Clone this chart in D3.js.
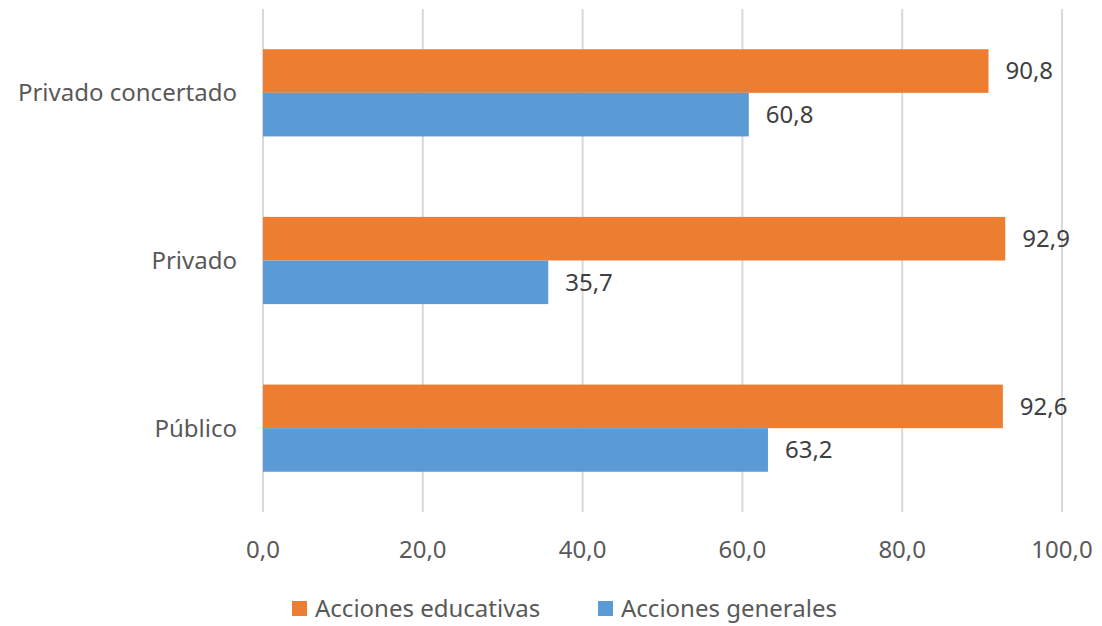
<!DOCTYPE html>
<html>
<head>
<meta charset="utf-8">
<script src="https://cdn.jsdelivr.net/npm/d3@7"></script>
<style>
  body { margin: 0; background: #fff; }
  svg { font-family: "Noto Sans", "Open Sans", sans-serif; }
</style>
</head>
<body>
<svg width="1102" height="626"></svg>
<script>
var categories = ["Privado concertado", "Privado", "Público"];
var seriesNames = ["Acciones educativas", "Acciones generales"];
var educativas = [90.8, 92.9, 92.6];
var generales = [60.8, 35.7, 63.2];
var xTicks = [0, 20, 40, 60, 80, 100];
var colors = ["#ED7D31", "#5B9BD5"];

var svg = d3.select("svg"),
    margin = {top: 9, right: 40, bottom: 114, left: 263},
    width = 1102 - margin.left - margin.right,
    height = 626 - margin.top - margin.bottom;

var fs = 24;

var g = svg.append("g")
    .attr("transform", "translate(" + margin.left + "," + margin.top + ")");

var x = d3.scaleLinear().domain([0, 100]).range([0, 799]);
var y0 = d3.scaleBand().domain(categories).range([0, height]).paddingInner(0.48).paddingOuter(0.24);
var y1 = d3.scaleBand().domain(seriesNames).range([0, y0.bandwidth()]);

var fmt = function(v) { return d3.format(".1f")(v).replace(".", ","); };

// gridlines
g.selectAll(".grid").data(xTicks).enter().append("line")
  .attr("x1", function(d) { return x(d); })
  .attr("x2", function(d) { return x(d); })
  .attr("y1", 0).attr("y2", height)
  .attr("stroke", "#d9d9d9").attr("stroke-width", 2);

var rows = categories.map(function(c, i) {
  return {cat: c, vals: [educativas[i], generales[i]]};
});

var grp = g.selectAll(".cat").data(rows).enter().append("g")
  .attr("transform", function(d) { return "translate(0," + y0(d.cat) + ")"; });

grp.selectAll("rect").data(function(d) {
    return d.vals.map(function(v, j) { return {s: seriesNames[j], v: v, j: j}; });
  }).enter().append("rect")
  .attr("x", x(0))
  .attr("y", function(d) { return y1(d.s); })
  .attr("width", function(d) { return x(d.v) - x(0); })
  .attr("height", y1.bandwidth())
  .attr("fill", function(d) { return colors[d.j]; });

grp.selectAll("text.val").data(function(d) {
    return d.vals.map(function(v, j) { return {s: seriesNames[j], v: v}; });
  }).enter().append("text")
  .attr("x", function(d) { return x(d.v) + 17; })
  .attr("y", function(d) { return y1(d.s) + y1.bandwidth() / 2; })
  .attr("dy", "0.35em")
  .attr("font-size", fs)
  .attr("fill", "#404040")
  .text(function(d) { return fmt(d.v); });

// category labels
g.selectAll(".catlab").data(categories).enter().append("text")
  .attr("x", -26)
  .attr("y", function(d) { return y0(d) + y0.bandwidth() / 2; })
  .attr("dy", "0.35em")
  .attr("text-anchor", "end")
  .attr("font-size", fs)
  .attr("fill", "#595959")
  .text(function(d) { return d; });

// x tick labels
g.selectAll(".xlab").data(xTicks).enter().append("text")
  .attr("x", function(d) { return x(d); })
  .attr("y", height + 38)
  .attr("dy", "0.35em")
  .attr("text-anchor", "middle")
  .attr("font-size", fs)
  .attr("fill", "#595959")
  .text(function(d) { return fmt(d); });

// legend
var legendX = [292, 598];
var leg = svg.selectAll(".leg").data(seriesNames).enter().append("g")
  .attr("transform", function(d, i) { return "translate(" + legendX[i] + ",609)"; });
leg.append("rect").attr("x", 0).attr("y", -8).attr("width", 15).attr("height", 15)
  .attr("fill", function(d, i) { return colors[i]; });
leg.append("text").attr("x", 23).attr("y", 0).attr("dy", "0.35em")
  .attr("font-size", fs).attr("fill", "#595959")
  .text(function(d) { return d; });
</script>
</body>
</html>
